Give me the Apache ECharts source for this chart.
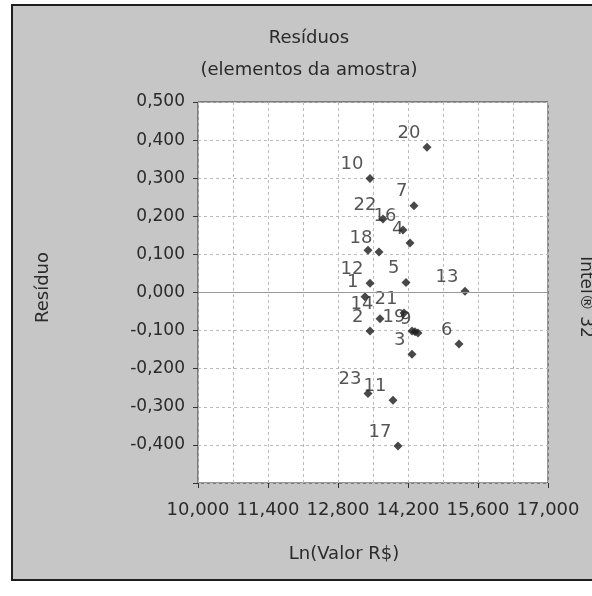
<!DOCTYPE html>
<html>
<head>
<meta charset="utf-8">
<script src="https://cdn.jsdelivr.net/npm/echarts@6/dist/echarts.min.js"></script>
<style>
  html, body { margin: 0; padding: 0; background: #fff; }
  #main { width: 592px; height: 596px; }
</style>
</head>
<body>
<div id="main"></div>
<script>
// numero do elemento da amostra, Ln(valor) e residuo
var pointIds = ['20', '10', '7', '22', '16', '4', '8', '18', '5', '12', '1', '13',
                '21', '14', '2', '19', '15', '9', '3', '6', '23', '11', '17'];
var lnValor = [14.58, 13.44, 14.32, 13.70, 14.10, 14.24, 13.40, 13.62, 14.16, 13.44, 13.34, 15.34,
               14.12, 13.64, 13.44, 14.28, 14.34, 14.40, 14.28, 15.22, 13.40, 13.90, 14.00];
var residuo = [0.381, 0.299, 0.228, 0.193, 0.164, 0.130, 0.111, 0.106, 0.026, 0.024, -0.011, 0.003,
               -0.054, -0.069, -0.101, -0.101, -0.103, -0.106, -0.162, -0.135, -0.265, -0.283, -0.403];
var hiddenLabels = ['8', '15'];   // rotulos encobertos no original

var xMin = 10, xMax = 17, xStep = 1.4;
var yMin = -0.5, yMax = 0.5, yStep = 0.1;

function fmt(v) {
    if (Math.abs(v) < 1e-9) v = 0;
    return v.toFixed(3).replace('.', ',');
}

var pts = pointIds.map(function (id, i) {
    var item = { name: id, value: [lnValor[i], residuo[i]] };
    if (hiddenLabels.indexOf(id) >= 0) item.label = { show: false };
    return item;
});

var txt = '#2a2a2a';
var font = 'DejaVu Sans, Verdana, sans-serif';

var myChart = echarts.init(document.getElementById('main'));
var option = {
    backgroundColor: '#fff',
    animation: false,
    title: {
        text: 'Resíduos',
        subtext: '(elementos da amostra)',
        left: 304,
        textAlign: 'center',
        top: 24,
        itemGap: 14,
        textStyle: { color: txt, fontSize: 18, fontWeight: 'normal', fontFamily: font },
        subtextStyle: { color: txt, fontSize: 18, fontFamily: font }
    },
    graphic: [
        {
            type: 'rect', z: -100,
            shape: { x: 12, y: 5, width: 600, height: 575 },
            style: { fill: '#c6c6c6', stroke: '#1e1e1e', lineWidth: 2 }
        },
        {
            type: 'text', x: 585, y: 297, rotation: -Math.PI / 2,
            style: { text: 'Intel® 32', fill: txt, font: '17px ' + font, align: 'center', verticalAlign: 'middle' }
        }
    ],
    grid: {
        left: 198, top: 102, width: 350, height: 381,
        show: true, backgroundColor: '#fff', borderColor: '#333', borderWidth: 1
    },
    xAxis: [
        {
            type: 'value', min: xMin, max: xMax, show: false
        },
        {
            // eixo deslocado (0..7) so para desenhar as marcas a partir de 10
            type: 'value', min: 0, max: xMax - xMin, interval: xStep, position: 'bottom',
            name: 'Ln(Valor R$)', nameLocation: 'middle', nameGap: 62,
            nameTextStyle: { color: txt, fontSize: 18, fontFamily: font, padding: [0, 58, 0, 0] },
            axisLine: { show: false },
            axisTick: { show: true, length: 5, lineStyle: { color: '#333' } },
            minorTick: { show: false, splitNumber: 2 },
            axisLabel: {
                color: txt, fontSize: 18, fontFamily: font, margin: 18,
                formatter: function (v) { return fmt(v + xMin); }
            },
            splitLine: { show: true, lineStyle: { color: '#bbb', type: [3, 3] } },
            minorSplitLine: { show: true, lineStyle: { color: '#bbb', type: [3, 3] } }
        }
    ],
    yAxis: {
        type: 'value', min: yMin, max: yMax, interval: yStep,
        name: 'Resíduo', nameLocation: 'middle', nameGap: 146, nameRotate: 90,
        nameTextStyle: { color: txt, fontSize: 18, fontFamily: font, padding: [0, 0, 0, 10] },
        axisLine: { show: false },
        axisTick: { show: true, length: 5, lineStyle: { color: '#333' } },
        axisLabel: {
            color: txt, fontSize: 17, fontFamily: font, margin: 13,
            formatter: function (v) { return v < yMin + 1e-9 ? '' : fmt(v); }
        },
        splitLine: { show: true, lineStyle: { color: '#bbb', type: [3, 3] } }
    },
    series: [
        {
            type: 'scatter',
            xAxisIndex: 0,
            symbol: 'diamond',
            symbolSize: 9,
            itemStyle: { color: '#1c1c1c' },
            label: {
                show: true,
                position: 'left',
                distance: 2,
                offset: [0, -14],
                formatter: '{b}',
                color: txt,
                fontSize: 18,
                fontFamily: font
            },
            markLine: {
                silent: true,
                symbol: 'none',
                label: { show: false },
                lineStyle: { color: '#999', type: 'solid', width: 1 },
                data: [{ yAxis: 0 }]
            },
            data: pts
        }
    ]
};
myChart.setOption(option);
</script>
</body>
</html>
